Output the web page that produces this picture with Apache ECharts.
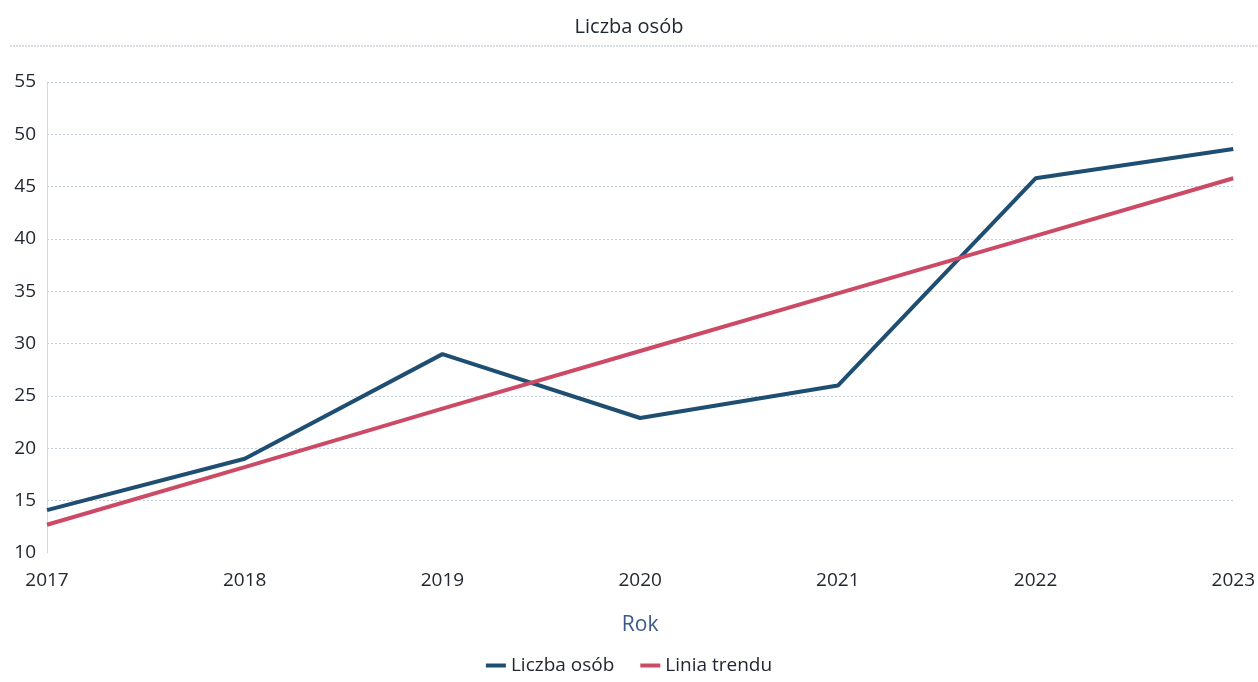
<!DOCTYPE html>
<html>
<head>
<meta charset="utf-8">
<script src="https://cdn.jsdelivr.net/npm/echarts@6/dist/echarts.min.js"></script>
<style>
html,body{margin:0;padding:0;background:#fff;}
#main{width:1258px;height:682px;}
</style>
</head>
<body>
<div id="main"></div>
<script>
// dane wykresu
var years = ['2017', '2018', '2019', '2020', '2021', '2022', '2023'];
var liczbaOsob = [14.1, 19.0, 29.0, 22.9, 26.0, 45.8, 48.6];
var liniaTrendu = [12.7, 18.2, 23.8, 29.3, 34.8, 40.3, 45.8];

var FONT = '"Open Sans", "DejaVu Sans", sans-serif';
var chart = echarts.init(document.getElementById('main'));

var option = {
    backgroundColor: '#ffffff',
    textStyle: { fontFamily: FONT },
    title: {
        text: 'Liczba osób',
        left: 'center',
        top: 12,
        textStyle: { fontFamily: FONT, fontSize: 20, fontWeight: 'normal', color: '#222831' }
    },
    graphic: [{
        type: 'line',
        shape: { x1: 10, y1: 46, x2: 1258, y2: 46 },
        style: { stroke: '#b3bdcb', lineWidth: 1, lineDash: [2, 1] }
    }],
    legend: {
        bottom: 2,
        left: 'center',
        itemWidth: 20,
        itemHeight: 4,
        itemGap: 26,
        icon: 'rect',
        textStyle: { fontFamily: FONT, fontSize: 19, color: '#222831' },
        data: ['Liczba osób', 'Linia trendu']
    },
    grid: { left: 47, right: 20, top: 82, bottom: 129 },
    xAxis: {
        type: 'category',
        data: years,
        boundaryGap: false,
        name: 'Rok',
        nameLocation: 'middle',
        nameGap: 62,
        nameTextStyle: { fontFamily: FONT, fontSize: 21, color: '#3a5a8c' },
        axisLine: { show: false },
        axisTick: { show: false },
        axisLabel: { fontSize: 19, color: '#222831', margin: 18 },
        splitLine: { show: false }
    },
    yAxis: {
        type: 'value',
        min: 10,
        max: 55,
        interval: 5,
        axisLine: { show: true, lineStyle: { color: '#d3d9e2', width: 1 } },
        axisTick: { show: false },
        axisLabel: { fontSize: 19, color: '#222831', margin: 11 },
        splitLine: { showMinLine: false, lineStyle: { color: '#c3cddb', type: [2, 2], width: 1 } }
    },
    series: [
        {
            name: 'Liczba osób',
            type: 'line',
            data: liczbaOsob,
            symbol: 'none',
            color: '#1f4e73',
            lineStyle: { width: 4, color: '#1f4e73' }
        },
        {
            name: 'Linia trendu',
            type: 'line',
            data: liniaTrendu,
            symbol: 'none',
            color: '#cc4a66',
            lineStyle: { width: 4, color: '#cc4a66' }
        }
    ]
};

chart.setOption(option);
</script>
</body>
</html>
